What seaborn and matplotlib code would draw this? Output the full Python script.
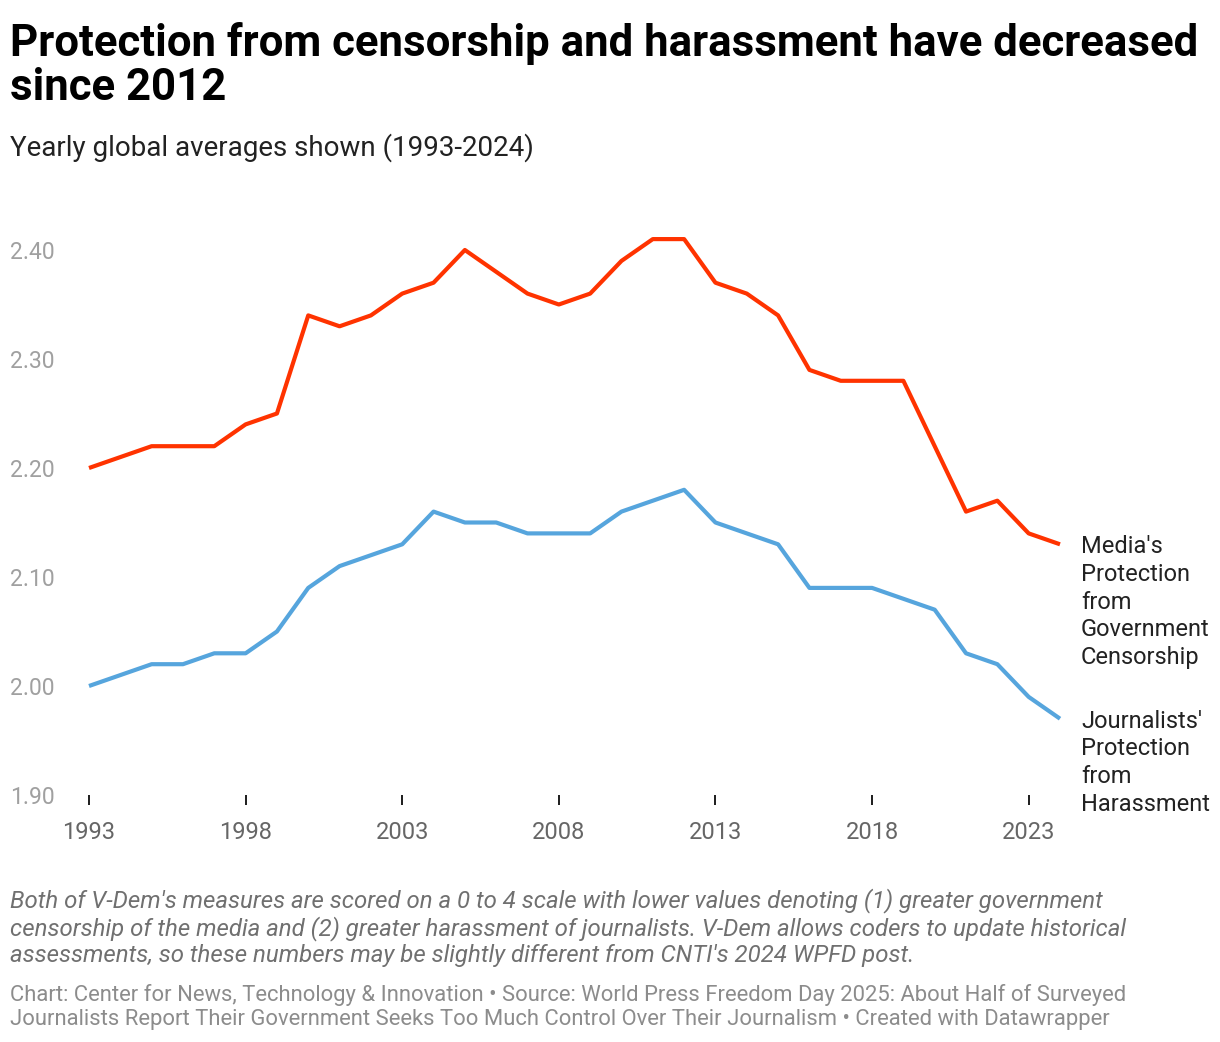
import numpy as np
import pandas as pd
import matplotlib

matplotlib.use("Agg")
import matplotlib.pyplot as plt
import seaborn as sns

sns.set_style("white")
plt.rcParams["font.family"] = ["Roboto", "DejaVu Sans"]

# %%
years = list(range(1993, 2025))
censorship = [2.20, 2.21, 2.22, 2.22, 2.22, 2.24, 2.25, 2.34, 2.33, 2.34, 2.36,
              2.37, 2.40, 2.38, 2.36, 2.35, 2.36, 2.39, 2.41, 2.41, 2.37, 2.36,
              2.34, 2.29, 2.28, 2.28, 2.28, 2.22, 2.16, 2.17, 2.14, 2.13]
harassment = [2.00, 2.01, 2.02, 2.02, 2.03, 2.03, 2.05, 2.09, 2.11, 2.12, 2.13,
              2.16, 2.15, 2.15, 2.14, 2.14, 2.14, 2.16, 2.17, 2.18, 2.15, 2.14,
              2.13, 2.09, 2.09, 2.09, 2.08, 2.07, 2.03, 2.02, 1.99, 1.97]
series_names = ["Media's\nProtection\nfrom\nGovernment\nCensorship",
                "Journalists'\nProtection\nfrom\nHarassment"]
y_ticks = [1.90, 2.00, 2.10, 2.20, 2.30, 2.40]
x_ticks = [1993, 1998, 2003, 2008, 2013, 2018, 2023]

df = pd.DataFrame({"year": years * 2,
                   "value": censorship + harassment,
                   "series": [series_names[0]] * len(years) + [series_names[1]] * len(years)})
colors = {series_names[0]: "#ff3300", series_names[1]: "#56a5dd"}

# %%
W, H = 1220, 1042
PX = 72 / 100  # points per pixel
fig = plt.figure(figsize=(W / 100, H / 100), dpi=100)
ax = fig.add_axes([89 / W, 1 - 795 / H, (1060 - 89) / W, (795 - 250) / H])

sns.lineplot(data=df, x="year", y="value", hue="series", palette=colors,
             linewidth=3, legend=False, ax=ax, clip_on=False,
             solid_joinstyle="round", solid_capstyle="butt")

ax.set_xlim(1993, 2024)
ax.set_ylim(1.90, 2.40)
for s in ax.spines.values():
    s.set_visible(False)
ax.set_xlabel("")
ax.set_ylabel("")

ax.set_yticks(y_ticks)
ax.set_yticklabels([f"{v:.2f}" for v in y_ticks], fontsize=16.5, color="#a0a0a0", ha="left")
ax.tick_params(axis="y", length=0, pad=79 * PX)
ax.set_xticks(x_ticks)
ax.set_xticklabels([str(v) for v in x_ticks], fontsize=17, color="#666666")
ax.tick_params(axis="x", bottom=True, length=10 * PX, width=2 * PX, color="#222222",
               direction="out", pad=16 * PX)

# line labels at the series ends
for name, vals in zip(series_names, [censorship, harassment]):
    ax.annotate(name, xy=(years[-1], vals[-1]), xytext=(21 * PX, 9 * PX),
                textcoords="offset points", ha="left", va="top", fontsize=17,
                color="#222222", linespacing=1.26,
                annotation_clip=False)

# %%
fig.text(10 / W, 1 - 100 / H, "Protection from censorship and harassment have decreased\nsince 2012",
         fontsize=31.5, fontweight="bold", color="#000000", ha="left", va="baseline",
         linespacing=1.07)
fig.text(10 / W, 1 - 156 / H, "Yearly global averages shown (1993-2024)",
         fontsize=20, color="#222222", ha="left", va="baseline")

note = ("Both of V-Dem's measures are scored on a 0 to 4 scale with lower values denoting (1) greater government\n"
        "censorship of the media and (2) greater harassment of journalists. V-Dem allows coders to update historical\n"
        "assessments, so these numbers may be slightly different from CNTI's 2024 WPFD post.")
fig.text(10 / W, 1 - 962 / H, note, fontsize=17.3, style="italic", color="#707070",
         ha="left", va="baseline", linespacing=1.17)
footer = ("Chart: Center for News, Technology & Innovation \u2022 Source: World Press Freedom Day 2025: About Half of Surveyed\n"
          "Journalists Report Their Government Seeks Too Much Control Over Their Journalism \u2022 Created with Datawrapper")
fig.text(10 / W, 1 - 1025 / H, footer, fontsize=15.85, color="#8c8c8c",
         ha="left", va="baseline", linespacing=1.18)

fig.savefig("out.png", dpi=100)
